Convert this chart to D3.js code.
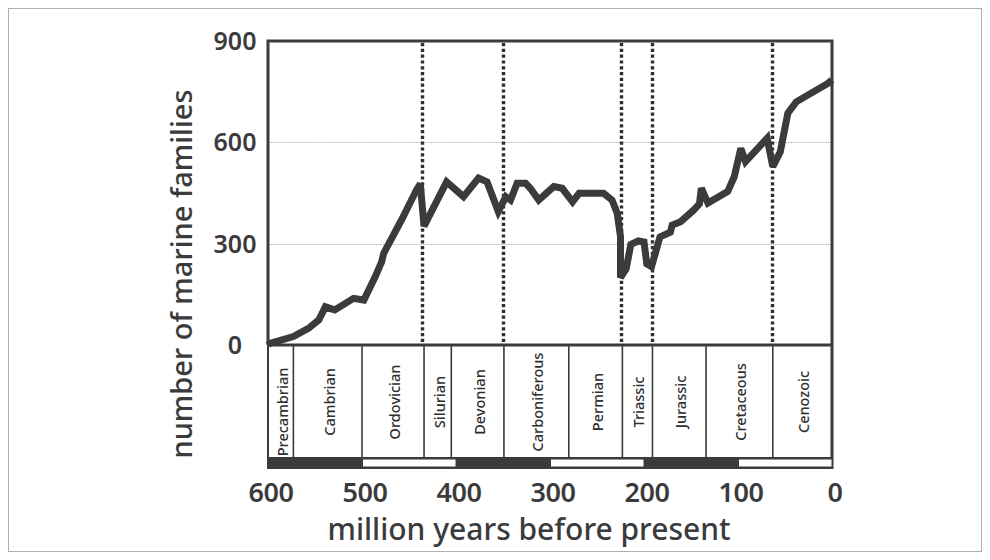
<!DOCTYPE html>
<html><head><meta charset="utf-8">
<script src="https://cdn.jsdelivr.net/npm/d3@7"></script>
<style>body{margin:0;background:#fff}</style>
</head><body><svg id="c" width="990" height="560"></svg>
<script>
// Data: marine family diversity through the Phanerozoic
const ages =     [600, 598, 573, 557, 546, 539, 529, 509, 498, 486, 479, 477, 458, 442, 438, 434, 410, 392, 376, 367, 355, 347, 342, 335, 326, 321, 312, 296, 287, 276, 269, 243, 234, 228.5, 225, 225, 219, 214, 206, 200, 197, 192, 183, 172, 170, 161, 147, 141, 139, 132, 111, 104, 97, 92, 69, 63, 55, 47, 38, 4, 0];
const families = [0,   5,   25,  49,  74,  113, 104, 138, 133, 202, 247, 271, 370, 459, 477, 352, 483, 439, 494, 483, 395, 439, 429, 479, 479, 464, 429, 469, 464, 424, 449, 449, 429, 390,   321, 200, 225, 298, 308, 305, 240, 232, 320, 334, 355, 365, 400, 418, 464, 420, 454, 498, 582, 543, 612, 528, 572, 686, 720, 775, 785];
const periodNames  = ["Precambrian","Cambrian","Ordovician","Silurian","Devonian","Carboniferous","Permian","Triassic","Jurassic","Cretaceous","Cenozoic"];
const periodStarts = [600, 573, 500, 434, 405, 349, 280, 223, 191, 134, 63];
const periodEnds   = [573, 500, 434, 405, 349, 280, 223, 191, 134, 63, 0];
const extinctionAges = [436, 350, 225, 192, 64];
const yTicks = [0, 300, 600, 900];
const gridTicks = [300, 600];
const xTicks = [600, 500, 400, 300, 200, 100, 0];
const scaleBarStarts = [600, 500, 400, 300, 200, 100];
const scaleBarShade  = ["dark", "light", "dark", "light", "dark", "light"];
const yTitle = "number of marine families";
const xTitle = "million years before present";

const ink = "#3b3b3d";
const font = "'Noto Sans', sans-serif";
const svg = d3.select("#c");
svg.append("rect").attr("x",0).attr("y",0).attr("width",990).attr("height",560).attr("fill","#fff");
svg.append("rect").attr("x",8.5).attr("y",8.5).attr("width",973).attr("height",543)
  .attr("fill","none").attr("stroke","#b0b0b0").attr("stroke-width",1);

const x = d3.scaleLinear().domain([600, 0]).range([268, 832]);
const y = d3.scaleLinear().domain([0, 900]).range([345, 41]);
const boxTop = 345, boxBottom = 457, barTop = 457, barBottom = 469;

// gridlines
svg.append("g").selectAll("line").data(gridTicks).join("line")
  .attr("x1", x(600)).attr("x2", x(0)).attr("y1", d => Math.round(y(d)) + 0.5).attr("y2", d => Math.round(y(d)) + 0.5)
  .attr("stroke", "#b5b5b5").attr("stroke-width", 1).attr("stroke-dasharray", "1.5 1");

// extinction dotted lines
svg.append("g").selectAll("line").data(extinctionAges).join("line")
  .attr("x1", d => Math.round(x(d)) + 0.5).attr("x2", d => Math.round(x(d)) + 0.5)
  .attr("y1", y(900) + 2).attr("y2", y(0) - 3)
  .attr("stroke", "#2f2f31").attr("stroke-width", 3.4).attr("stroke-dasharray", "3.2 2.6");

// curve
const line = d3.line().x((d, i) => x(ages[i])).y((d, i) => y(families[i]));
svg.append("path").datum(families).attr("d", line)
  .attr("fill", "none").attr("stroke", ink).attr("stroke-width", 7)
  .attr("stroke-linejoin", "miter").attr("stroke-miterlimit", 3);

// frame
svg.append("path")
  .attr("d", `M${x(600)},${boxTop} V${y(900)} H${x(0)} V${barBottom}`)
  .attr("fill", "none").attr("stroke", ink).attr("stroke-width", 3);
svg.append("line").attr("x1", x(600)).attr("x2", x(0)).attr("y1", boxTop).attr("y2", boxTop)
  .attr("stroke", ink).attr("stroke-width", 3);
svg.append("line").attr("x1", x(600)).attr("x2", x(600)).attr("y1", boxTop).attr("y2", barBottom)
  .attr("stroke", ink).attr("stroke-width", 2);

// period boxes
const pg = svg.append("g");
pg.selectAll("line").data(periodEnds.slice(0, -1)).join("line")
  .attr("x1", d => x(d)).attr("x2", d => x(d)).attr("y1", boxTop).attr("y2", boxBottom)
  .attr("stroke", ink).attr("stroke-width", 1.6);
pg.selectAll("text").data(periodNames).join("text")
  .attr("transform", (d, i) => `translate(${(x(periodStarts[i]) + x(periodEnds[i])) / 2 + 1},${i === 0 ? 412 : 402}) rotate(-90)`)
  .attr("text-anchor", "middle").attr("dominant-baseline", "central")
  .attr("font-family", font).attr("font-size", 14.5).attr("font-weight", 500).attr("fill", "#2e2e2e")
  .text(d => d);

// time scale bar
svg.append("rect").attr("x", x(600)).attr("y", barTop).attr("width", x(0) - x(600) + 1).attr("height", barBottom - barTop)
  .attr("fill", ink);
svg.append("g").selectAll("rect").data(scaleBarStarts.filter((d, i) => scaleBarShade[i] === "light")).join("rect")
  .attr("x", d => x(d) + 1).attr("y", barTop + 2.5).attr("width", d => x(d - 100) - x(d) - 1.5).attr("height", 7)
  .attr("fill", "#fff");

// y tick labels
svg.append("g").selectAll("text").data(yTicks).join("text")
  .attr("x", 235).attr("y", d => y(d)).attr("dy", "0.36em").attr("text-anchor", "middle")
  .attr("font-family", font).attr("font-size", 25).attr("font-weight", 600).attr("fill", ink)
  .text(d => d);

// x tick labels
svg.append("g").selectAll("text").data(xTicks).join("text")
  .attr("x", d => x(d) + 3).attr("y", 502).attr("text-anchor", "middle")
  .attr("font-family", font).attr("font-size", 27).attr("font-weight", 600).attr("fill", ink)
  .attr("letter-spacing", -0.5)
  .text(d => d);

// titles
svg.append("text").attr("x", 529).attr("y", 540).attr("text-anchor", "middle")
  .attr("font-family", font).attr("font-size", 30).attr("font-weight", 500).attr("fill", ink)
  .text(xTitle);
svg.append("text").attr("transform", "translate(192,274) rotate(-90)").attr("text-anchor", "middle")
  .attr("font-family", font).attr("font-size", 29).attr("font-weight", 500).attr("fill", ink)
  .text(yTitle);
</script></body></html>
